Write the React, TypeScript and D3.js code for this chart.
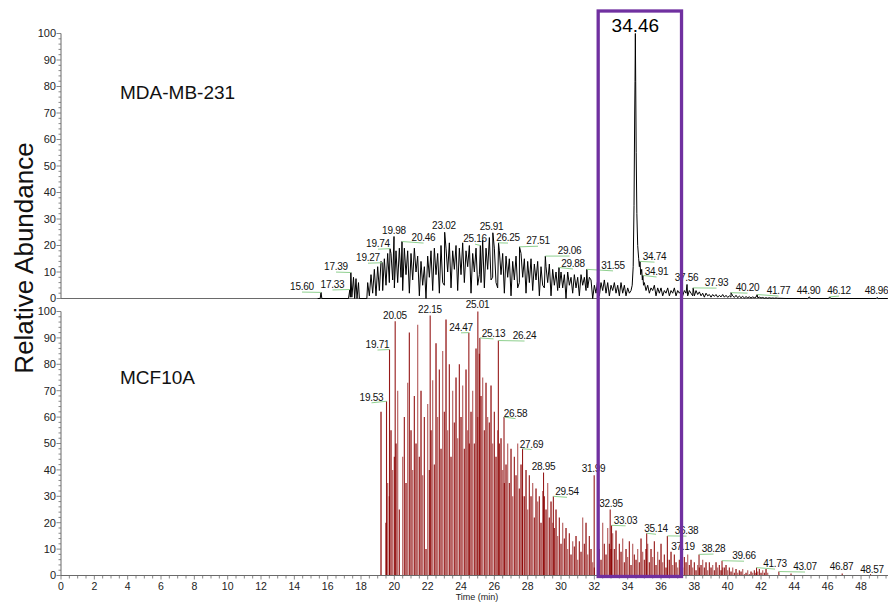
import React from "react";
import * as d3 from "d3";

// ---------- axis / text data ----------
const xMajorTicks = [0, 2, 4, 6, 8, 10, 12, 14, 16, 18, 20, 22, 24, 26, 28, 30, 32, 34, 36, 38, 40, 42, 44, 46, 48];
const yMajorTicks = [0, 10, 20, 30, 40, 50, 60, 70, 80, 90, 100];
const panelNames = ["MDA-MB-231", "MCF10A"];
const yTitle = "Relative Abundance";
const xTitle = "Time (min)";
const highlightPeak = { t: 34.46, label: "34.46", from: 32.2, to: 37.2 };

// ---------- MDA-MB-231 (top trace) ----------
const mdaPre: [number, number][] = [
  [15.4, 0], [15.55, 0], [15.65, 0], [17.25, 0], [17.36, 0.5], [17.45, 0.5], [17.55, 8], [17.62, 0],
  [17.7, 7.5], [17.76, 0], [17.85, 6], [17.9, 0], [18.35, 0],
];
const mdaGridStart = 18.4;
const mdaGridStep = 0.1;
const mdaGrid = [
  6, 1, 9, 2, 11, 1, 12, 3, 14, 3,
  15, 5, 17, 6, 17, 7, 4, 18, 6, 19,
  8, 3, 19, 9, 18, 2, 17, 7, 19, 10,
  16, 1, 14, 5, 12, 0, 16, 8, 18, 3,
  19, 9, 17, 2, 20, 6, 5, 19, 10, 21,
  4, 18, 11, 20, 3, 19, 9, 21, 6, 18,
  12, 20, 2, 17, 10, 19, 5, 9, 6, 22,
  4, 19, 11, 23, 7, 8, 19, 6, 4, 18,
  9, 17, 2, 16, 8, 15, 1, 14, 7, 16,
  4, 6, 17, 8, 15, 2, 14, 6, 15, 3,
  13, 7, 14, 1, 12, 5, 4, 12, 6, 13,
  1, 11, 5, 10, 3, 4, 10, 4, 9, 0,
  10, 5, 8, 2, 9, 4, 8, 1, 9, 5,
  8, 3, 4, 8, 7, 0, 5, 2, 7, 1,
  6, 3, 7, 2, 6, 1, 5, 3, 6, 2,
  5, 1, 6, 2, 5, 1, 4, 2,
];
const mdaApex: [number, number][] = [
  [34.2, 3], [34.27, 5], [34.33, 12], [34.38, 35], [34.42, 70], [34.44, 82], [34.46, 100], [34.48, 82],
  [34.51, 55], [34.55, 32], [34.6, 20], [34.66, 15], [34.7, 12], [34.78, 9], [34.84, 11], [34.88, 7], [34.95, 5],
];
const mdaTailStart = 35.0;
const mdaTailStep = 0.1;
const mdaTail = [
  6, 3, 5, 2, 4, 3, 5, 1, 4, 2,
  4, 1, 3, 2, 4, 1, 3, 2, 4, 1,
  3, 2, 3, 1, 3, 2, 1, 3, 2, 1,
  1, 3, 1.5, 2.5, 1, 2, 0.5, 2, 1, 1.5,
  0.5, 1.5, 0.8, 1.5, 0.5, 1.2, 0.6, 1.5, 0.5, 1.2,
  0.4, 1, 0.5, 1, 0.4, 1.2, 0.3, 0.9, 0.3, 0.8,
  0.2, 0.7, 0.3, 0.6, 0.2, 0.6, 0.3, 0.5, 0.3, 0.5,
  0.2, 0.4, 0.1, 0.3, 0.1, 0.3, 0.1, 0.2, 0.1, 0.2,
  0.1,
];
const mdaPost: [number, number][] = [
  [43.5, 0], [44.8, 0], [44.97, 0], [46.05, 0], [46.2, 0], [48.9, 0], [49.03, 0], [49.6, 0],
];
// [peak time, peak %, label time, label %]
const mdaPeaks: [number, number, number, number][] = [
  [15.6, 2.3, 14.46, 4.5],
  [17.33, 3.4, 16.29, 5.3],
  [17.39, 9.8, 16.5, 12.05],
  [19.27, 13.5, 18.42, 15.4],
  [19.74, 18.8, 19.02, 20.7],
  [19.98, 23.4, 19.98, 25.6],
  [20.46, 21.5, 21.75, 23.0],
  [23.02, 25, 22.98, 27.5],
  [25.16, 20, 24.84, 22.6],
  [25.91, 24.8, 25.83, 27.1],
  [26.25, 21, 26.82, 23.0],
  [27.51, 19.5, 28.62, 21.8],
  [29.06, 16, 30.51, 18.1],
  [29.88, 11.7, 30.72, 13.2],
  [31.55, 11, 33.12, 12.5],
  [34.74, 14, 35.61, 15.8],
  [34.91, 8.7, 35.73, 10.2],
  [37.56, 5.3, 37.53, 7.9],
  [37.93, 4, 39.33, 6.0],
  [40.2, 2.2, 41.19, 4.1],
  [41.77, 1.5, 43.05, 3.0],
  [44.9, 0.6, 44.85, 3.0],
  [46.12, 0.6, 46.68, 3.0],
  [48.96, 0.4, 48.93, 3.0],
];

// ---------- MCF10A (bottom sticks) ----------
const mcfGridStart = 19.2;
const mcfGridStep = 0.1;
const mcfGrid = [
  62, 0, 0, 20, 35, 30, 55, 40, 45, 50,
  70, 25, 0, 45, 60, 35, 73, 92, 55, 40,
  68, 50, 95, 45, 70, 38, 60, 10, 65, 40,
  55, 74, 42, 88, 60, 78, 48, 85, 62, 97,
  55, 80, 45, 70, 58, 75, 52, 80, 60, 72,
  48, 78, 55, 50, 62, 70, 50, 86, 60, 84,
  68, 75, 55, 73, 60, 58, 72, 50, 62, 45,
  55, 50, 52, 40, 35, 42, 50, 35, 48, 30,
  45, 38, 50, 33, 42, 30, 30, 40, 25, 38,
  30, 35, 22, 33, 28, 30, 20, 32, 30, 25,
  35, 22, 28, 20, 18, 25, 15, 22, 12, 20,
  14, 18, 10, 16, 8, 13, 11, 15, 6, 13,
  9, 22, 12, 20, 8, 15, 10, 5, 3, 0,
  3, 10, 6, 20, 12, 8, 18, 12, 10, 16,
  10, 17, 6, 12, 9, 14, 5, 10, 7, 13,
  4, 12, 8, 6, 10, 5, 14, 9, 6, 10,
  12, 5, 10, 7, 13, 4, 9, 6, 12, 5,
  8, 3, 6, 6, 9, 4, 8, 5, 3, 6,
  4, 3, 7, 5, 8, 4, 6, 3, 5, 2,
  4, 3, 4, 6, 3, 5, 2, 5, 3, 4,
  2, 5, 3, 4, 2, 3, 3, 4, 2, 3,
  1.5, 3, 1, 2.5, 1, 2, 1.5, 2.5, 0.5, 1,
  2, 0.5, 1.5, 1, 2, 1, 1.5, 2.5, 1, 2,
  1, 2.5, 1,
];
const mcfExtra: [number, number][] = [[43.8, 0.8]];
const mcfPeaks: [number, number, number, number][] = [
  [19.53, 66, 18.63, 67.5],
  [19.71, 85.6, 18.99, 87.5],
  [20.05, 96.3, 20.04, 98.5],
  [22.15, 98.5, 22.14, 100.8],
  [24.47, 92, 24.0, 94],
  [25.01, 100, 24.99, 102.6],
  [25.13, 90, 25.95, 91.7],
  [26.24, 89, 27.81, 90.9],
  [26.58, 60, 27.27, 61.5],
  [27.69, 48, 28.23, 49.8],
  [28.95, 39, 28.95, 41.1],
  [29.54, 30, 30.36, 31.7],
  [31.99, 38, 31.95, 40.4],
  [32.95, 25, 33.0, 27.2],
  [33.03, 19, 33.87, 20.9],
  [35.14, 16, 35.7, 17.7],
  [36.38, 15, 37.53, 17.0],
  [37.19, 9, 37.32, 10.9],
  [38.28, 8, 39.15, 10.2],
  [39.66, 5.6, 40.98, 7.5],
  [41.73, 3, 42.84, 4.5],
  [43.07, 1.5, 44.64, 3.4],
  [46.87, 0.8, 46.83, 3.4],
  [48.57, 0.5, 48.66, 2.3],
];

const FONT = "'Liberation Sans', Arial, Helvetica, sans-serif";
const AXIS = "#6a6a6a";
const GREEN = "#8fd08f";
const RED = "#8b0000";
const PURPLE = "#7030a0";

const grid = (start: number, step: number, vals: number[]): [number, number][] =>
  vals.map((v, i) => [Math.round((start + i * step) * 1000) / 1000, v]);

function YAxis({ y, x0 }: { y: d3.ScaleLinear<number, number>; x0: number }) {
  const minor = d3.range(0, 101, 2);
  return (
    <g>
      <line x1={x0} x2={x0} y1={y(0)} y2={y(100)} stroke={AXIS} strokeWidth={1} />
      {minor.map((m) => (
        <line key={"m" + m} x1={x0 - (m % 10 === 0 ? 4.5 : 2.5)} x2={x0} y1={y(m)} y2={y(m)} stroke={AXIS} strokeWidth={0.8} />
      ))}
      {yMajorTicks.map((t) => (
        <text key={t} x={x0 - 5} y={y(t)} dy="0.35em" textAnchor="end" fontSize={11} fontFamily={FONT} fill="#222">
          {t}
        </text>
      ))}
    </g>
  );
}

function PeakLabels({
  peaks, x, y,
}: { peaks: [number, number, number, number][]; x: d3.ScaleLinear<number, number>; y: d3.ScaleLinear<number, number> }) {
  return (
    <g>
      {peaks.map(([pt, pv, lt, lv]) => {
        const px = x(pt), py = y(pv), lx = x(lt), ly = y(lv);
        const showLine = Math.abs(lx - px) > 3;
        return (
          <g key={pt}>
            {showLine && <line x1={lx} y1={ly + 5.5} x2={px} y2={py} stroke={GREEN} strokeWidth={1} />}
            <text x={lx} y={ly} dy="0.35em" textAnchor="middle" fontSize={10} letterSpacing="-0.25px" fontFamily={FONT} fill="#111">
              {pt.toFixed(2)}
            </text>
          </g>
        );
      })}
    </g>
  );
}

export default function App() {
  const x = d3.scaleLinear().domain([0, 49.6]).range([61, 887.7]);
  const yTop = d3.scaleLinear().domain([0, 100]).range([298.5, 33.5]);
  const yBot = d3.scaleLinear().domain([0, 100]).range([575.5, 311.5]);

  const topPoints: [number, number][] = [
    ...mdaPre,
    ...grid(mdaGridStart, mdaGridStep, mdaGrid),
    ...mdaApex,
    ...grid(mdaTailStart, mdaTailStep, mdaTail),
    ...mdaPost,
    ...mdaPeaks.map((p) => [p[0], p[1]] as [number, number]),
  ].sort((a, b) => a[0] - b[0]);

  const line = d3.line<[number, number]>().x((d) => x(d[0])).y((d) => yTop(d[1]));

  const sticks: [number, number][] = [...grid(mcfGridStart, mcfGridStep, mcfGrid), ...mcfExtra];
  const peakSticks: [number, number][] = mcfPeaks.map((p) => [p[0], p[1]]);

  const minorX = d3.range(0, 49.6, 0.5);

  return (
    <svg
      width={888}
      height={602}
      style={{ position: "fixed", left: 0, top: 0, background: "#fff" }}
      xmlns="http://www.w3.org/2000/svg"
    >
      <rect x={0} y={0} width={888} height={602} fill="#fff" />

      {/* y title */}
      <text
        transform="translate(33,258) rotate(-90)"
        textAnchor="middle"
        fontSize={26}
        fontFamily={FONT}
        fill="#111"
      >
        {yTitle}
      </text>

      {/* top panel */}
      <line x1={x(0)} x2={888} y1={yTop(0)} y2={yTop(0)} stroke={AXIS} strokeWidth={1} />
      <YAxis y={yTop} x0={x(0)} />
      <path d={line(topPoints) || ""} fill="none" stroke="#000" strokeWidth={1} strokeLinejoin="round" />
      <PeakLabels peaks={mdaPeaks} x={x} y={yTop} />
      <text x={120} y={99} fontSize={19} fontFamily={FONT} fill="#111">
        {panelNames[0]}
      </text>

      {/* bottom panel */}
      <YAxis y={yBot} x0={x(0)} />
      {sticks.map(([t, v], i) => (
        <line
          key={"s" + i}
          x1={x(t)}
          x2={x(t)}
          y1={yBot(0)}
          y2={yBot(v)}
          stroke={RED}
          strokeWidth={1.2}
          strokeOpacity={i % 3 === 0 ? 1 : i % 3 === 1 ? 0.6 : 0.85}
        />
      ))}
      {peakSticks.map(([t, v], i) => (
        <line key={"p" + i} x1={x(t)} x2={x(t)} y1={yBot(0)} y2={yBot(v)} stroke={RED} strokeWidth={1.1} strokeOpacity={0.9} />
      ))}
      <PeakLabels peaks={mcfPeaks} x={x} y={yBot} />
      <text x={120} y={384} fontSize={19} fontFamily={FONT} fill="#111">
        {panelNames[1]}
      </text>

      {/* x axis */}
      <line x1={x(0)} x2={888} y1={yBot(0)} y2={yBot(0)} stroke={AXIS} strokeWidth={1} />
      {minorX.map((t) => (
        <line key={"xm" + t} x1={x(t)} x2={x(t)} y1={yBot(0)} y2={yBot(0) + (t % 2 === 0 ? 4 : 3)} stroke={AXIS} strokeWidth={0.8} />
      ))}
      {xMajorTicks.map((t) => (
        <text key={"xl" + t} x={x(t)} y={589.5} textAnchor="middle" fontSize={10.5} fontFamily={FONT} fill="#222">
          {t}
        </text>
      ))}
      <text x={477} y={600} textAnchor="middle" fontSize={9} fontFamily={FONT} fill="#222">
        {xTitle}
      </text>

      {/* highlight box */}
      <rect
        x={x(highlightPeak.from) + 0.5}
        y={11}
        width={x(highlightPeak.to) - x(highlightPeak.from)}
        height={565.5}
        fill="none"
        stroke={PURPLE}
        strokeWidth={3.3}
      />
      <text x={x(highlightPeak.t)} y={32} textAnchor="middle" fontSize={19} fontFamily={FONT} fill="#000">
        {highlightPeak.label}
      </text>
    </svg>
  );
}
